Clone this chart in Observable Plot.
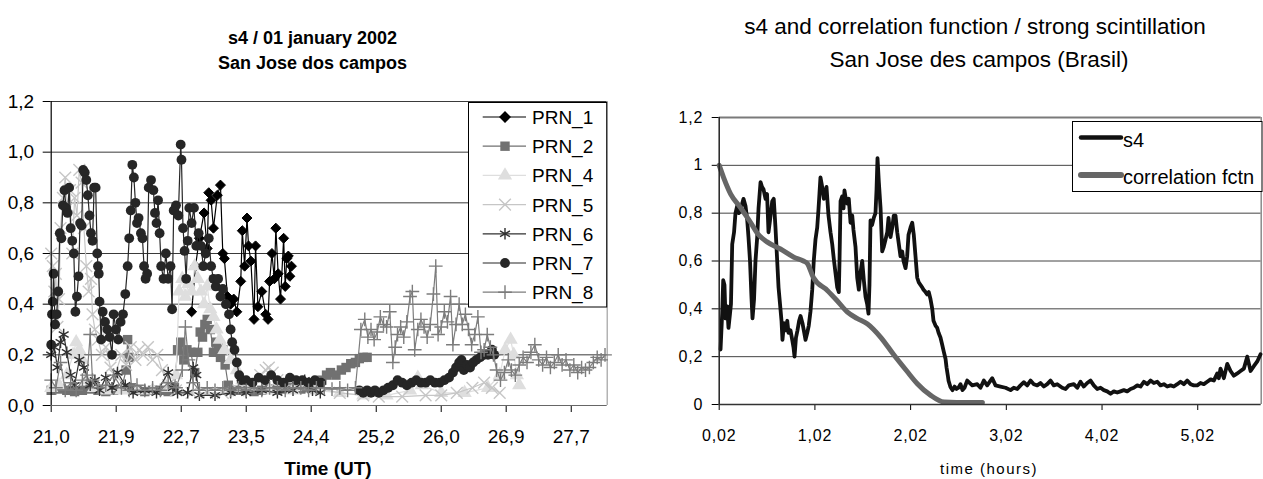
<!DOCTYPE html>
<html><head><meta charset="utf-8">
<script src="https://cdn.jsdelivr.net/npm/d3@7"></script>
<script src="https://cdn.jsdelivr.net/npm/@observablehq/plot@0.6"></script>
<style>
body{margin:0;background:#fff;}
#wrap{position:relative;width:1263px;height:479px;overflow:hidden;font-family:"Liberation Sans",Arial,sans-serif;background:#fff;}
.abs{position:absolute;white-space:nowrap;}
</style></head><body><div id="wrap"></div>
<script>
// ---------- LEFT CHART DATA (time UT hours, s4) ----------
const leftXTicks = [21.0, 21.833, 22.667, 23.5, 24.333, 25.167, 26.0, 26.833, 27.667];
const leftXLabels = ["21,0","21,9","22,7","23,5","24,4","25,2","26,0","26,9","27,7"];
const leftYTicks = [0, 0.2, 0.4, 0.6, 0.8, 1.0, 1.2];
const leftXDomain = [21, 28.128];

const prn1 = [[22.80,0.37],[22.85,0.55],[22.90,0.66],[22.96,0.76],[23.00,0.62],[23.02,0.84],[23.05,0.81],[23.08,0.70],[23.13,0.83],[23.17,0.87],[23.20,0.60],[23.22,0.58],[23.26,0.43],[23.30,0.40],[23.34,0.42],[23.38,0.37],[23.43,0.49],[23.45,0.69],[23.48,0.55],[23.51,0.74],[23.53,0.63],[23.56,0.57],[23.60,0.34],[23.62,0.63],[23.65,0.39],[23.70,0.45],[23.75,0.36],[23.78,0.34],[23.80,0.49],[23.83,0.60],[23.86,0.50],[23.88,0.70],[23.91,0.52],[23.94,0.42],[23.98,0.66],[24.00,0.47],[24.02,0.58],[24.04,0.59],[24.06,0.51],[24.08,0.55]];

const prn2 = [[21.0,0.06],[21.1,0.065],[21.2,0.06],[21.3,0.055],[21.4,0.06],[21.5,0.065],[21.6,0.06],[21.7,0.055],[21.8,0.06],[21.9,0.065],[21.96,0.14],[21.98,0.26],[22.00,0.19],[22.03,0.07],[22.1,0.06],[22.2,0.055],[22.3,0.06],[22.4,0.06],[22.5,0.055],[22.58,0.07],[22.62,0.22],[22.66,0.25],[22.70,0.18],[22.74,0.22],[22.79,0.21],[22.84,0.13],[22.88,0.21],[22.91,0.29],[22.94,0.27],[22.97,0.32],[23.00,0.34],[23.04,0.30],[23.08,0.21],[23.11,0.25],[23.14,0.23],[23.17,0.19],[23.20,0.22],[23.23,0.16],[23.27,0.08],[23.35,0.06],[23.45,0.06],[23.6,0.055],[23.7,0.06],[23.8,0.065],[23.9,0.06],[24.0,0.065],[24.1,0.07],[24.2,0.065],[24.3,0.07],[24.4,0.08],[24.47,0.10],[24.53,0.12],[24.58,0.13],[24.65,0.12],[24.72,0.14],[24.78,0.15],[24.84,0.165],[24.9,0.17],[24.95,0.185],[25.0,0.19],[25.05,0.19]];

const prn4 = [[21.0,0.07],[21.1,0.08],[21.2,0.12],[21.28,0.20],[21.32,0.25],[21.36,0.22],[21.40,0.18],[21.45,0.10],[21.55,0.07],[21.7,0.06],[21.9,0.06],[22.1,0.06],[22.3,0.06],[22.5,0.07],[22.6,0.12],[22.64,0.45],[22.68,0.50],[22.72,0.43],[22.76,0.48],[22.80,0.45],[22.84,0.55],[22.88,0.50],[22.92,0.45],[22.96,0.40],[23.00,0.47],[23.04,0.38],[23.08,0.35],[23.12,0.30],[23.16,0.26],[23.22,0.22],[23.30,0.18],[23.38,0.14],[23.45,0.10],[23.55,0.07],[23.8,0.06],[24.1,0.06],[24.4,0.06],[24.7,0.05],[25.0,0.04],[25.3,0.04],[25.6,0.06],[25.7,0.11],[25.75,0.08],[26.0,0.05],[26.3,0.05],[26.6,0.07],[26.75,0.12],[26.82,0.22],[26.89,0.26],[26.93,0.20],[26.97,0.12],[27.0,0.08]];

const prn5 = [[21.0,0.60],[21.02,0.55],[21.04,0.45],[21.06,0.52],[21.08,0.31],[21.10,0.42],[21.12,0.70],[21.15,0.82],[21.18,0.90],[21.21,0.78],[21.24,0.85],[21.27,0.60],[21.30,0.82],[21.33,0.75],[21.36,0.93],[21.39,0.88],[21.42,0.70],[21.45,0.55],[21.48,0.45],[21.51,0.50],[21.53,0.36],[21.56,0.30],[21.6,0.26],[21.65,0.20],[21.7,0.23],[21.76,0.15],[21.82,0.12],[21.9,0.20],[21.96,0.16],[22.02,0.23],[22.08,0.18],[22.13,0.22],[22.18,0.20],[22.24,0.23],[22.30,0.18],[22.36,0.20],[22.42,0.14],[22.5,0.08],[22.6,0.06],[22.8,0.05],[23.0,0.05],[23.2,0.05],[23.4,0.06],[23.55,0.08],[23.68,0.12],[23.75,0.14],[23.79,0.15],[23.84,0.13],[23.9,0.10],[24.0,0.08],[24.2,0.08],[24.4,0.07],[24.7,0.05],[25.0,0.04],[25.2,0.035],[25.5,0.035],[25.8,0.04],[26.0,0.04],[26.2,0.05],[26.4,0.07],[26.55,0.09],[26.65,0.07],[26.75,0.05]];

const prn6 = [[21.0,0.20],[21.04,0.23],[21.08,0.15],[21.12,0.25],[21.16,0.28],[21.2,0.21],[21.25,0.12],[21.3,0.08],[21.36,0.18],[21.42,0.15],[21.5,0.08],[21.56,0.10],[21.62,0.06],[21.7,0.11],[21.78,0.07],[21.85,0.13],[21.95,0.08],[22.05,0.05],[22.2,0.06],[22.35,0.05],[22.5,0.13],[22.56,0.07],[22.62,0.05],[22.75,0.05],[22.82,0.15],[22.86,0.12],[22.9,0.04],[23.1,0.04],[23.3,0.05],[23.5,0.05],[23.7,0.06],[23.9,0.05],[24.1,0.06],[24.25,0.10],[24.35,0.06],[24.45,0.05]];

const prn7 = [[21.00,0.24],[21.01,0.36],[21.02,0.41],[21.03,0.52],[21.05,0.32],[21.07,0.36],[21.09,0.45],[21.11,0.68],[21.13,0.66],[21.15,0.79],[21.17,0.85],[21.19,0.78],[21.21,0.76],[21.23,0.86],[21.25,0.70],[21.27,0.65],[21.29,0.60],[21.31,0.37],[21.33,0.43],[21.35,0.51],[21.37,0.72],[21.39,0.71],[21.41,0.93],[21.43,0.92],[21.45,0.89],[21.47,0.83],[21.49,0.75],[21.51,0.68],[21.53,0.65],[21.55,0.86],[21.57,0.86],[21.59,0.60],[21.60,0.55],[21.61,0.52],[21.62,0.41],[21.64,0.26],[21.66,0.37],[21.69,0.33],[21.72,0.30],[21.75,0.27],[21.78,0.20],[21.80,0.36],[21.83,0.30],[21.86,0.26],[21.89,0.33],[21.92,0.36],[21.95,0.44],[21.98,0.55],[22.00,0.66],[22.02,0.77],[22.04,0.95],[22.06,0.90],[22.08,0.80],[22.10,0.72],[22.12,0.74],[22.15,0.68],[22.17,0.66],[22.19,0.55],[22.21,0.50],[22.23,0.52],[22.25,0.86],[22.28,0.89],[22.31,0.85],[22.33,0.76],[22.35,0.72],[22.37,0.81],[22.39,0.68],[22.41,0.55],[22.44,0.50],[22.47,0.60],[22.50,0.50],[22.53,0.55],[22.55,0.38],[22.57,0.77],[22.60,0.79],[22.63,0.75],[22.66,1.03],[22.67,0.97],[22.69,0.70],[22.71,0.61],[22.73,0.50],[22.75,0.65],[22.77,0.78],[22.80,0.72],[22.83,0.78],[22.86,0.63],[22.89,0.68],[22.92,0.63],[22.95,0.55],[22.98,0.60],[23.02,0.66],[23.05,0.55],[23.08,0.50],[23.11,0.47],[23.14,0.50],[23.17,0.43],[23.20,0.46],[23.24,0.40],[23.28,0.36],[23.30,0.30],[23.32,0.25],[23.35,0.22],[23.38,0.17],[23.41,0.12],[23.44,0.10],[23.50,0.10],[23.58,0.09],[23.66,0.11],[23.74,0.10],[23.82,0.12],[23.90,0.10],[23.98,0.09],[24.06,0.11],[24.14,0.10],[24.22,0.10],[24.30,0.09],[24.38,0.10],[24.46,0.09],[24.70,null],[24.95,0.06],[25.00,0.05],[25.05,0.06],[25.10,0.05],[25.15,0.06],[25.20,0.05],[25.26,0.06],[25.32,0.07],[25.38,0.08],[25.44,0.10],[25.50,0.09],[25.56,0.08],[25.62,0.09],[25.68,0.10],[25.74,0.09],[25.80,0.09],[25.86,0.10],[25.92,0.09],[25.98,0.09],[26.04,0.10],[26.10,0.11],[26.15,0.13],[26.19,0.15],[26.23,0.17],[26.26,0.18],[26.29,0.14],[26.33,0.16],[26.37,0.15],[26.41,0.17],[26.45,0.18],[26.50,0.19],[26.55,0.20],[26.60,0.20],[26.65,0.22],[26.68,0.20]];

const prn8 = [[21.0,0.10],[21.06,0.07],[21.12,0.17],[21.18,0.06],[21.25,0.09],[21.32,0.06],[21.40,0.10],[21.46,0.12],[21.50,0.28],[21.53,0.10],[21.6,0.07],[21.7,0.08],[21.8,0.12],[21.9,0.07],[22.0,0.06],[22.1,0.08],[22.2,0.06],[22.3,0.07],[22.4,0.06],[22.5,0.09],[22.6,0.07],[22.68,0.14],[22.72,0.31],[22.76,0.18],[22.82,0.09],[22.9,0.06],[23.0,0.07],[23.1,0.06],[23.2,0.07],[23.3,0.06],[23.4,0.07],[23.5,0.06],[23.6,0.07],[23.7,0.06],[23.8,0.07],[23.9,0.07],[24.0,0.06],[24.1,0.07],[24.2,0.07],[24.3,0.06],[24.4,0.07],[24.5,0.07],[24.6,0.065],[24.7,0.07],[24.8,0.06],[24.9,0.07],[24.97,0.30],[25.02,0.34],[25.06,0.27],[25.10,0.30],[25.14,0.26],[25.18,0.29],[25.22,0.35],[25.26,0.32],[25.30,0.31],[25.34,0.37],[25.38,0.17],[25.41,0.23],[25.44,0.28],[25.48,0.31],[25.52,0.27],[25.56,0.33],[25.60,0.43],[25.63,0.45],[25.66,0.22],[25.70,0.30],[25.74,0.34],[25.78,0.31],[25.82,0.27],[25.86,0.32],[25.90,0.44],[25.93,0.55],[25.96,0.28],[26.00,0.31],[26.04,0.37],[26.08,0.33],[26.12,0.43],[26.15,0.24],[26.19,0.32],[26.23,0.40],[26.27,0.32],[26.31,0.36],[26.35,0.30],[26.39,0.24],[26.43,0.28],[26.47,0.35],[26.51,0.21],[26.55,0.22],[26.59,0.28],[26.63,0.23],[26.67,0.20],[26.71,0.14],[26.76,0.10],[26.81,0.13],[26.86,0.18],[26.9,0.14],[26.95,0.12],[27.0,0.16],[27.05,0.19],[27.1,0.17],[27.15,0.21],[27.2,0.24],[27.25,0.18],[27.3,0.16],[27.35,0.19],[27.4,0.15],[27.45,0.17],[27.5,0.20],[27.55,0.16],[27.6,0.18],[27.65,0.14],[27.7,0.16],[27.75,0.13],[27.8,0.15],[27.85,0.14],[27.9,0.15],[27.95,0.17],[28.0,0.19],[28.05,0.18],[28.1,0.20]];

const leftNames = ["PRN_1","PRN_2","PRN_4","PRN_5","PRN_6","PRN_7","PRN_8"];

// ---------- RIGHT CHART DATA (time hours) ----------
const rightXTicks = [0.02, 1.02, 2.02, 3.02, 4.02, 5.02];
const rightXLabels = ["0,02","1,02","2,02","3,02","4,02","5,02"];
const rightYTicks = [0, 0.2, 0.4, 0.6, 0.8, 1, 1.2];
const rightXDomain = [0.02, 5.683];

const s4 = [[0.034,0.23],[0.051,0.38],[0.062,0.52],[0.075,0.50],[0.086,0.36],[0.104,0.41],[0.117,0.32],[0.133,0.38],[0.143,0.42],[0.156,0.67],[0.175,0.72],[0.19,0.80],[0.208,0.83],[0.225,0.80],[0.243,0.81],[0.26,0.84],[0.274,0.86],[0.295,0.83],[0.313,0.77],[0.326,0.70],[0.342,0.60],[0.357,0.45],[0.368,0.36],[0.384,0.44],[0.399,0.60],[0.417,0.70],[0.431,0.82],[0.452,0.93],[0.467,0.91],[0.483,0.90],[0.504,0.86],[0.52,0.88],[0.535,0.72],[0.551,0.77],[0.574,0.85],[0.59,0.86],[0.608,0.74],[0.626,0.60],[0.64,0.49],[0.66,0.40],[0.671,0.35],[0.681,0.27],[0.697,0.34],[0.714,0.31],[0.731,0.35],[0.744,0.30],[0.765,0.31],[0.783,0.27],[0.796,0.24],[0.807,0.20],[0.822,0.28],[0.838,0.31],[0.855,0.35],[0.87,0.37],[0.89,0.34],[0.904,0.31],[0.922,0.27],[0.94,0.30],[0.956,0.33],[0.974,0.39],[0.992,0.48],[1.008,0.60],[1.026,0.69],[1.044,0.74],[1.058,0.82],[1.078,0.95],[1.096,0.91],[1.113,0.86],[1.126,0.88],[1.141,0.91],[1.162,0.79],[1.183,0.72],[1.201,0.67],[1.217,0.61],[1.235,0.55],[1.253,0.49],[1.27,0.47],[1.277,0.60],[1.288,0.85],[1.305,0.87],[1.319,0.82],[1.329,0.895],[1.343,0.86],[1.357,0.84],[1.374,0.86],[1.392,0.76],[1.41,0.79],[1.423,0.73],[1.444,0.66],[1.462,0.53],[1.479,0.48],[1.496,0.55],[1.514,0.60],[1.531,0.52],[1.549,0.45],[1.566,0.42],[1.58,0.38],[1.59,0.50],[1.601,0.77],[1.617,0.75],[1.635,0.78],[1.653,0.80],[1.664,0.90],[1.674,1.03],[1.688,0.93],[1.706,0.82],[1.723,0.64],[1.74,0.66],[1.758,0.69],[1.776,0.72],[1.789,0.78],[1.81,0.70],[1.828,0.74],[1.844,0.79],[1.862,0.79],[1.88,0.72],[1.897,0.67],[1.914,0.62],[1.932,0.64],[1.946,0.60],[1.967,0.57],[1.984,0.62],[1.998,0.71],[2.019,0.74],[2.037,0.76],[2.053,0.71],[2.071,0.62],[2.089,0.53],[2.106,0.51],[2.123,0.50],[2.141,0.49],[2.155,0.48],[2.176,0.47],[2.193,0.46],[2.21,0.47],[2.228,0.44],[2.246,0.40],[2.259,0.35],[2.28,0.33],[2.298,0.32],[2.312,0.30],[2.332,0.28],[2.35,0.25],[2.367,0.22],[2.385,0.19],[2.395,0.156],[2.409,0.12],[2.416,0.10],[2.437,0.072],[2.458,0.06],[2.479,0.075],[2.5,0.065],[2.52,0.07],[2.541,0.085],[2.562,0.06],[2.583,0.07],[2.611,0.10],[2.664,0.08],[2.716,0.085],[2.75,0.07],[2.785,0.10],[2.82,0.08],[2.873,0.11],[2.907,0.08],[2.959,0.075],[3.012,0.07],[3.064,0.06],[3.098,0.07],[3.134,0.065],[3.168,0.08],[3.203,0.093],[3.238,0.08],[3.273,0.10],[3.307,0.085],[3.343,0.08],[3.377,0.09],[3.412,0.075],[3.447,0.085],[3.482,0.10],[3.516,0.08],[3.552,0.085],[3.604,0.07],[3.639,0.065],[3.673,0.08],[3.725,0.085],[3.761,0.07],[3.795,0.095],[3.83,0.075],[3.865,0.09],[3.9,0.10],[3.934,0.08],[3.97,0.065],[4.004,0.07],[4.039,0.06],[4.074,0.055],[4.109,0.045],[4.143,0.055],[4.179,0.05],[4.213,0.055],[4.248,0.06],[4.283,0.055],[4.318,0.065],[4.352,0.07],[4.388,0.08],[4.422,0.075],[4.457,0.095],[4.492,0.085],[4.527,0.10],[4.561,0.09],[4.597,0.095],[4.631,0.08],[4.666,0.085],[4.701,0.075],[4.736,0.08],[4.77,0.075],[4.806,0.085],[4.84,0.095],[4.875,0.085],[4.91,0.10],[4.945,0.085],[4.979,0.08],[5.015,0.08],[5.049,0.09],[5.084,0.085],[5.119,0.095],[5.154,0.105],[5.188,0.10],[5.224,0.13],[5.24,0.11],[5.258,0.15],[5.293,0.11],[5.328,0.17],[5.363,0.14],[5.397,0.12],[5.433,0.13],[5.467,0.14],[5.502,0.15],[5.537,0.20],[5.572,0.14],[5.606,0.16],[5.642,0.18],[5.676,0.21]];

const corr = [[0.02,1.00],[0.065,0.95],[0.14,0.88],[0.24,0.825],[0.35,0.76],[0.42,0.715],[0.52,0.68],[0.66,0.65],[0.80,0.616],[0.90,0.60],[0.94,0.59],[1.005,0.53],[1.15,0.477],[1.25,0.435],[1.36,0.386],[1.46,0.36],[1.57,0.337],[1.71,0.28],[1.84,0.21],[1.98,0.14],[2.09,0.087],[2.23,0.038],[2.37,0.01],[2.50,0.008],[2.65,0.008],[2.77,0.008]];

const rightNames = ["s4","correlation fctn"];

// ---------- DRAW ----------
const FONT = '"Liberation Sans", Arial, sans-serif';
const wrap = document.getElementById("wrap");

const leftStyle = [
  {data: prn1, color:"#000000", symbol:"diamond2", r:4.5, filled:true},
  {data: prn2, color:"#717171", symbol:"square", r:5.3, filled:true},
  {data: prn4, color:"#dedede", symbol:"triangle", r:5.3, filled:true},
  {data: prn5, color:"#c6c6c6", symbol:"times", r:5.4, filled:false},
  {data: prn6, color:"#303030", symbol:"asterisk", r:5.4, filled:false},
  {data: prn7, color:"#262626", symbol:"circle", r:4.9, filled:true},
  {data: prn8, color:"#7c7c7c", symbol:"plus", r:4.5, filled:false}
];

const leftMarks = [
  Plot.ruleY(leftYTicks.filter(d => d > 0), {stroke: "#3a3a3a", strokeWidth: 1}),
  Plot.ruleX([leftXDomain[1]], {stroke: "#a0a0a0", strokeWidth: 1.2})
];
leftStyle.forEach(s => {
  leftMarks.push(Plot.line(s.data, {x: d => d[0], y: d => d[1], stroke: s.color, strokeWidth: 1.2}));
  leftMarks.push(Plot.dot(s.data, s.filled
    ? {x: d => d[0], y: d => d[1], symbol: s.symbol, r: s.r, fill: s.color, stroke: s.symbol === "diamond2" ? s.color : "none", strokeWidth: 1}
    : {x: d => d[0], y: d => d[1], symbol: s.symbol, r: s.r, fill: "none", stroke: s.color, strokeWidth: 1.4}));
});
leftMarks.push(Plot.ruleY([0], {stroke: "#666", strokeWidth: 1.2}));
leftMarks.push(Plot.ruleX([leftXDomain[0]], {stroke: "#000", strokeWidth: 1.2}));

const leftPlot = Plot.plot({
  width: 630, height: 479,
  marginLeft: 50.7, marginRight: 23.3, marginTop: 101, marginBottom: 74,
  style: {fontFamily: FONT, fontSize: "19px", background: "transparent", color: "#000", overflow: "visible"},
  x: {domain: leftXDomain, ticks: leftXTicks, tickFormat: d => leftXLabels[leftXTicks.indexOf(d)], tickSize: 7, tickPadding: 17, label: null},
  y: {domain: [0, 1.2], ticks: leftYTicks, tickFormat: d => d.toFixed(1).replace(".", ","), tickSize: 8, tickPadding: 9, label: null},
  marks: leftMarks
});
leftPlot.classList.add("abs");
leftPlot.style.left = "0px"; leftPlot.style.top = "0px";
wrap.appendChild(leftPlot);

const rightPlot = Plot.plot({
  width: 633, height: 479,
  marginLeft: 88.7, marginRight: 2.3, marginTop: 117, marginBottom: 75,
  style: {fontFamily: FONT, fontSize: "16px", background: "transparent", color: "#000", overflow: "visible", letterSpacing: "0.8px"},
  x: {domain: rightXDomain, ticks: rightXTicks, tickFormat: d => rightXLabels[rightXTicks.indexOf(d)], tickSize: 6, tickPadding: 19, label: null},
  y: {domain: [0, 1.2], ticks: rightYTicks, tickFormat: d => String(d).replace(".", ","), tickSize: 7, tickPadding: 9, label: null},
  marks: [
    Plot.ruleY([0.2, 0.4, 0.6, 0.8, 1], {stroke: "#444", strokeWidth: 1}),
    Plot.ruleY([1.2], {stroke: "#7a7a7a", strokeWidth: 2}),
    Plot.ruleX([rightXDomain[1]], {stroke: "#8a8a8a", strokeWidth: 1.5}),
    Plot.line(s4, {x: d => d[0], y: d => d[1], stroke: "#111", strokeWidth: 3.8, strokeLinejoin: "round"}),
    Plot.line(corr, {x: d => d[0], y: d => d[1], stroke: "#666", strokeWidth: 5, strokeLinecap: "round", curve: "monotone-x"}),
    Plot.ruleY([0], {stroke: "#333", strokeWidth: 1.5}),
    Plot.ruleX([rightXDomain[0]], {stroke: "#222", strokeWidth: 1.5})
  ]
});
rightPlot.classList.add("abs");
rightPlot.style.left = "630px"; rightPlot.style.top = "0px";
wrap.appendChild(rightPlot);

// ---------- LEGENDS ----------
const symMap = {diamond2: d3.symbolDiamond2, square: d3.symbolSquare, triangle: d3.symbolTriangle, times: d3.symbolTimes, asterisk: d3.symbolAsterisk, circle: d3.symbolCircle, plus: d3.symbolPlus};
const legL = d3.select(wrap).append("svg").attr("class", "abs")
  .style("left", "468px").style("top", "101.5px").attr("width", 140).attr("height", 206);
legL.append("rect").attr("x", 0.5).attr("y", 0.5).attr("width", 138.2).attr("height", 204.5).attr("fill", "#fff").attr("stroke", "#000");
leftStyle.forEach((s, i) => {
  const y = 15 + i * 29.2;
  legL.append("line").attr("x1", 14.7).attr("x2", 58).attr("y1", y).attr("y2", y).attr("stroke", s.color).attr("stroke-width", 1.2);
  legL.append("path").attr("transform", `translate(37,${y})`)
    .attr("d", d3.symbol(symMap[s.symbol], Math.PI * s.r * s.r)())
    .attr("fill", s.filled ? s.color : "none").attr("stroke", s.filled ? (s.symbol === "diamond2" ? s.color : "none") : s.color).attr("stroke-width", 1.4);
  legL.append("text").attr("x", 64).attr("y", y + 7).attr("font-family", FONT).attr("font-size", 19).text(leftNames[i]);
});

const legR = d3.select(wrap).append("svg").attr("class", "abs")
  .style("left", "1072px").style("top", "120.5px").attr("width", 191).attr("height", 72);
legR.append("rect").attr("x", 0.5).attr("y", 0.5).attr("width", 189.5).attr("height", 70).attr("fill", "#fff").attr("stroke", "#000");
[{c: "#111", w: 4.5}, {c: "#666", w: 6}].forEach((s, i) => {
  const y = i === 0 ? 16.5 : 54;
  legR.append("line").attr("x1", 9).attr("x2", 49).attr("y1", y).attr("y2", y).attr("stroke", s.c).attr("stroke-width", s.w).attr("stroke-linecap", "round");
  legR.append("text").attr("x", 51).attr("y", y + (i === 0 ? 9.5 : 8.5)).attr("font-family", FONT).attr("font-size", 20).text(rightNames[i]);
});

// ---------- TITLES ----------
function addText(txt, css) {
  const d = document.createElement("div");
  d.className = "abs";
  d.textContent = txt;
  Object.assign(d.style, css);
  wrap.appendChild(d);
}
addText("s4 / 01 january 2002", {left: "312.5px", top: "28.8px", transform: "translateX(-50%)", fontWeight: "bold", fontSize: "18px", lineHeight: "18px"});
addText("San Jose dos campos", {left: "312.5px", top: "53.8px", transform: "translateX(-50%)", fontWeight: "bold", fontSize: "18px", lineHeight: "18px"});
addText("Time (UT)", {left: "328px", top: "458.9px", transform: "translateX(-50%)", fontWeight: "bold", fontSize: "19px", lineHeight: "19px"});
addText("s4 and correlation function / strong scintillation", {left: "975px", top: "16px", transform: "translateX(-50%)", fontSize: "22.5px", lineHeight: "22.5px"});
addText("San Jose des campos (Brasil)", {left: "979px", top: "48.5px", transform: "translateX(-50%)", fontSize: "22.5px", lineHeight: "22.5px"});
addText("time (hours)", {left: "989px", top: "461.3px", transform: "translateX(-50%)", fontSize: "15px", lineHeight: "15px", letterSpacing: "1.5px"});
</script></body></html>
